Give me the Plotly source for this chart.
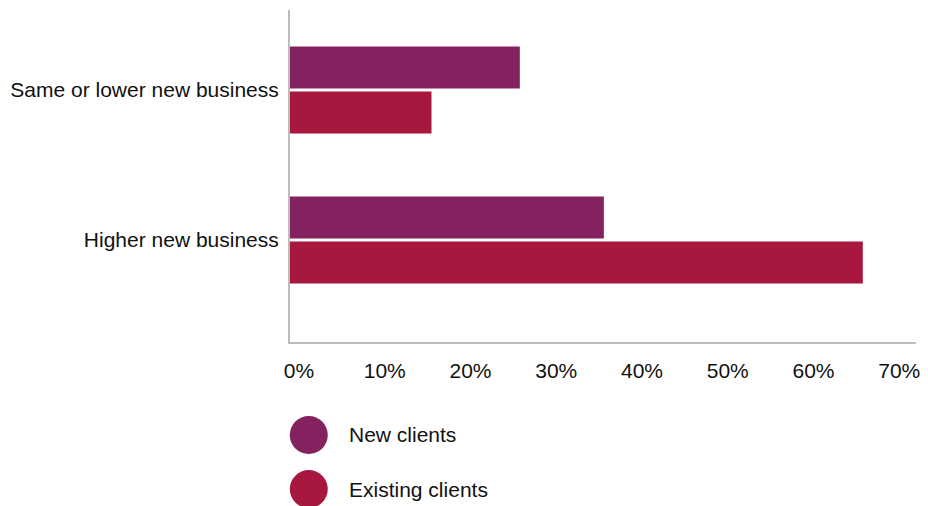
import plotly.graph_objects as go

categories = ["Same or lower new business", "Higher new business"]
new_clients = [26.8, 36.6]
existing_clients = [16.5, 66.8]
tick_values = [0, 10, 20, 30, 40, 50, 60, 70]
tick_labels = ["0%", "10%", "20%", "30%", "40%", "50%", "60%", "70%"]
series_names = ["New clients", "Existing clients"]
series_colors = ["#84225F", "#A8173E"]

FONT = "Liberation Sans, Arial, sans-serif"
TEXT = "#111111"
AXIS = "#BDBDBD"

fig = go.Figure()
fig.add_trace(go.Bar(y=categories, x=new_clients, orientation="h",
                     name=series_names[0], marker=dict(color=series_colors[0], line_width=0)))
fig.add_trace(go.Bar(y=categories, x=existing_clients, orientation="h",
                     name=series_names[1], marker=dict(color=series_colors[1], line_width=0)))

fig.update_layout(
    width=928, height=506,
    margin=dict(l=290, r=8, t=10, b=164),
    paper_bgcolor="white", plot_bgcolor="white",
    barmode="group", bargap=0.4, bargroupgap=0.067,
    showlegend=False,
    font=dict(family=FONT, size=21, color=TEXT),
)
fig.update_xaxes(
    range=[0, 73], tickvals=tick_values, ticktext=tick_labels,
    showgrid=False, zeroline=False, showline=True, linecolor=AXIS, linewidth=2,
    ticks="", ticklabelstandoff=9, ticklabelshift=9,
    tickfont=dict(family=FONT, size=21, color=TEXT),
)
fig.update_yaxes(
    type="category", categoryorder="array", categoryarray=categories,
    range=[1.68, -0.533],
    showgrid=False, zeroline=False, showline=True, linecolor=AXIS, linewidth=2,
    ticks="", ticklabelstandoff=5,
    tickfont=dict(family=FONT, size=21, color=TEXT),
)

# Legend drawn below the plot as large circles with labels
legend_y = [-0.280, -0.443]
for name, color, ly in zip(series_names, series_colors, legend_y):
    fig.add_shape(type="circle", xref="paper", yref="paper",
                  xsizemode="pixel", ysizemode="pixel",
                  xanchor=0.030, yanchor=ly,
                  x0=-19, x1=19, y0=-19, y1=19,
                  fillcolor=color, line_width=0)
    fig.add_annotation(xref="paper", yref="paper", x=0.091, y=ly,
                       text=name, showarrow=False, xanchor="left", yanchor="middle",
                       font=dict(family=FONT, size=21, color=TEXT))

fig.write_html("out.html")
